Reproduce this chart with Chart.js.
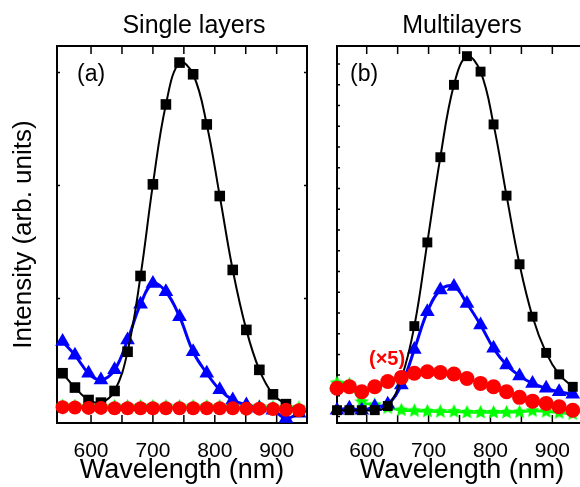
<!DOCTYPE html>
<html>
<head>
<meta charset="utf-8">
<script src="https://cdn.jsdelivr.net/npm/chart.js@4.4.1/dist/chart.umd.min.js"></script>
<style>
  body { margin: 0; background: #fff; }
  #wrap { position: relative; width: 580px; height: 487px; overflow: hidden; background: #fff;
          font-family: "Liberation Sans", Arial, sans-serif; }
  #wrap canvas { position: absolute; top: 0; }
  .lbl { position: absolute; white-space: nowrap; color: #000; line-height: 1; }
</style>
</head>
<body>
<div id="wrap">
  <canvas id="chartA" width="322" height="487" style="left:0"></canvas>
  <canvas id="chartB" width="290" height="487" style="left:322px"></canvas>
  <div class="lbl" style="left:94px;top:12px;width:200px;text-align:center;font-size:25px">Single layers</div>
  <div class="lbl" style="left:362px;top:12px;width:200px;text-align:center;font-size:25px">Multilayers</div>
  <div class="lbl" style="left:77px;top:62px;font-size:23px">(a)</div>
  <div class="lbl" style="left:350px;top:62px;font-size:23px">(b)</div>
  <div class="lbl" style="left:369px;top:348px;font-size:20px;font-weight:bold;color:#ff0000">(×5)</div>
</div>
<script>
const FONT = '"Liberation Sans", Arial, sans-serif';

// wavelengths (nm) of the measured points
const wlA = [554, 574, 596, 616, 638, 659, 680, 700, 721, 743, 765, 787, 808, 829, 851, 872, 894, 915, 936];
const wlB = [552, 572, 592, 613, 634, 656, 677, 698, 719, 741, 762, 784, 805, 826, 847, 868, 890, 911, 933];

// (a) single layers
const blackA = [0.132, 0.094, 0.061, 0.054, 0.085, 0.189, 0.39, 0.633, 0.845, 0.956, 0.925, 0.792, 0.602, 0.406, 0.247, 0.141, 0.076, 0.05, 0.03];
const blueA  = [0.216, 0.18, 0.132, 0.114, 0.141, 0.22, 0.315, 0.37, 0.348, 0.282, 0.189, 0.132, 0.088, 0.061, 0.048, 0.039, 0.034, 0.012, 0.026];
const redA   = [0.042, 0.041, 0.04, 0.04, 0.039, 0.039, 0.039, 0.039, 0.039, 0.039, 0.039, 0.039, 0.039, 0.039, 0.038, 0.038, 0.037, 0.035, 0.034];
const greenA = [0.045, 0.045, 0.044, 0.044, 0.044, 0.044, 0.044, 0.044, 0.044, 0.044, 0.044, 0.044, 0.044, 0.044, 0.043, 0.043, 0.042, 0.041, 0.04];

// (b) multilayers (red is x5)
const blackB = [0.034, 0.034, 0.034, 0.034, 0.045, 0.118, 0.257, 0.479, 0.705, 0.897, 0.973, 0.932, 0.792, 0.603, 0.421, 0.282, 0.186, 0.129, 0.096];
const blueB  = [0.034, 0.039, 0.034, 0.043, 0.05, 0.101, 0.195, 0.295, 0.353, 0.362, 0.317, 0.26, 0.198, 0.154, 0.125, 0.105, 0.092, 0.083, 0.076];
const redB   = [0.092, 0.096, 0.083, 0.096, 0.11, 0.121, 0.132, 0.136, 0.134, 0.13, 0.118, 0.105, 0.096, 0.083, 0.068, 0.058, 0.052, 0.043, 0.034];
const greenB = [0.106, 0.103, 0.056, 0.048, 0.04, 0.034, 0.032, 0.031, 0.03, 0.03, 0.028, 0.028, 0.028, 0.028, 0.029, 0.032, 0.03, 0.027, 0.024];

// y tick marks (no labels)
const yTicksA = [0.03, 0.33, 0.63, 0.93];
const yTicksB = [0.017, 0.072, 0.127, 0.182, 0.237, 0.292, 0.347, 0.402, 0.457, 0.512, 0.567, 0.622, 0.677, 0.732, 0.787, 0.842, 0.897, 0.952];

function starImage(size, color) {
  const c = document.createElement('canvas');
  c.width = c.height = size;
  const g = c.getContext('2d');
  g.fillStyle = color;
  g.beginPath();
  for (let i = 0; i < 10; i++) {
    const r = i % 2 ? size * 0.24 : size / 2;
    const a = -Math.PI / 2 + i * Math.PI / 5;
    g.lineTo(size / 2 + r * Math.cos(a), size / 2 + r * Math.sin(a));
  }
  g.closePath();
  g.fill();
  return c;
}
const star = starImage(15, '#00ff00');

function series(wl, vals, color, style, radius, width) {
  return {
    data: wl.map((w, i) => ({ x: w, y: vals[i] })),
    borderColor: color,
    backgroundColor: color,
    pointBackgroundColor: color,
    pointBorderColor: color,
    pointBorderWidth: 0,
    pointStyle: style,
    pointRadius: radius,
    borderWidth: width,
    tension: 0.4,
    clip: 8
  };
}

// box round the plot with inward tick marks
const frame = {
  id: 'frame',
  beforeDatasetsDraw(chart) {
    const { ctx, chartArea: a, scales: { x, y } } = chart;
    ctx.save();
    ctx.strokeStyle = '#000';
    ctx.lineWidth = 2;
    ctx.strokeRect(a.left, a.top, a.right - a.left, a.bottom - a.top);
    ctx.lineWidth = 1.5;
    ctx.beginPath();
    x.ticks.forEach(t => {
      const px = x.getPixelForValue(t.value);
      if (px < a.left + 5 || px > a.right - 5) return;
      ctx.moveTo(px, a.bottom); ctx.lineTo(px, a.bottom - 8);
      ctx.moveTo(px, a.top); ctx.lineTo(px, a.top + 8);
    });
    y.ticks.forEach(t => {
      const py = y.getPixelForValue(t.value);
      ctx.moveTo(a.left, py); ctx.lineTo(a.left + 3, py);
      ctx.moveTo(a.right, py); ctx.lineTo(a.right - 3, py);
    });
    ctx.stroke();
    ctx.restore();
  }
};

function makeChart(id, datasets, cfg) {
  return new Chart(document.getElementById(id), {
    type: 'line',
    data: { datasets },
    options: {
      responsive: false,
      animation: false,
      layout: { padding: { top: 46, right: cfg.padRight, left: 0, bottom: 0 } },
      plugins: { legend: { display: false }, tooltip: { enabled: false } },
      scales: {
        x: {
          type: 'linear',
          min: cfg.xMin,
          max: cfg.xMax,
          grid: { display: false },
          border: { display: false },
          ticks: {
            stepSize: 50,
            includeBounds: false,
            autoSkip: false,
            maxRotation: 0,
            padding: 8,
            color: '#000',
            font: { family: FONT, size: 21 },
            callback: v => (v % 100 === 0 ? String(v) : '')
          },
          title: {
            display: true,
            text: 'Wavelength (nm)',
            color: '#000',
            font: { family: FONT, size: 27 },
            padding: { top: 0, bottom: 0 }
          },
          afterFit: s => { s.height = 64; }
        },
        y: {
          min: 0,
          max: 1,
          grid: { display: false },
          border: { display: false },
          ticks: { display: false },
          title: {
            display: cfg.yTitle,
            text: 'Intensity (arb. units)',
            color: '#000',
            font: { family: FONT, size: 26 },
            padding: { top: 8, bottom: 0 }
          },
          afterBuildTicks: s => { s.ticks = cfg.yTicks.map(v => ({ value: v })); },
          afterFit: s => { s.width = cfg.yWidth; }
        }
      }
    },
    plugins: [frame]
  });
}

makeChart('chartA', [
  series(wlA, redA, '#ff0000', 'circle', 7, 2),
  series(wlA, blackA, '#000000', 'rect', 7.5, 2),
  series(wlA, blueA, '#0000ff', 'triangle', 8.5, 3),
  series(wlA, greenA, '#00ff00', star, 6, 2)
], { xMin: 545, xMax: 949, padRight: 15, yWidth: 57, yTitle: true, yTicks: yTicksA });

makeChart('chartB', [
  series(wlB, redB, '#ff0000', 'circle', 7.5, 2),
  series(wlB, blackB, '#000000', 'rect', 7, 2),
  series(wlB, blueB, '#0000ff', 'triangle', 8.5, 3),
  series(wlB, greenB, '#00ff00', star, 6, 2.5)
], { xMin: 552, xMax: 956, padRight: 25, yWidth: 15, yTitle: false, yTicks: yTicksB });
</script>
</body>
</html>
